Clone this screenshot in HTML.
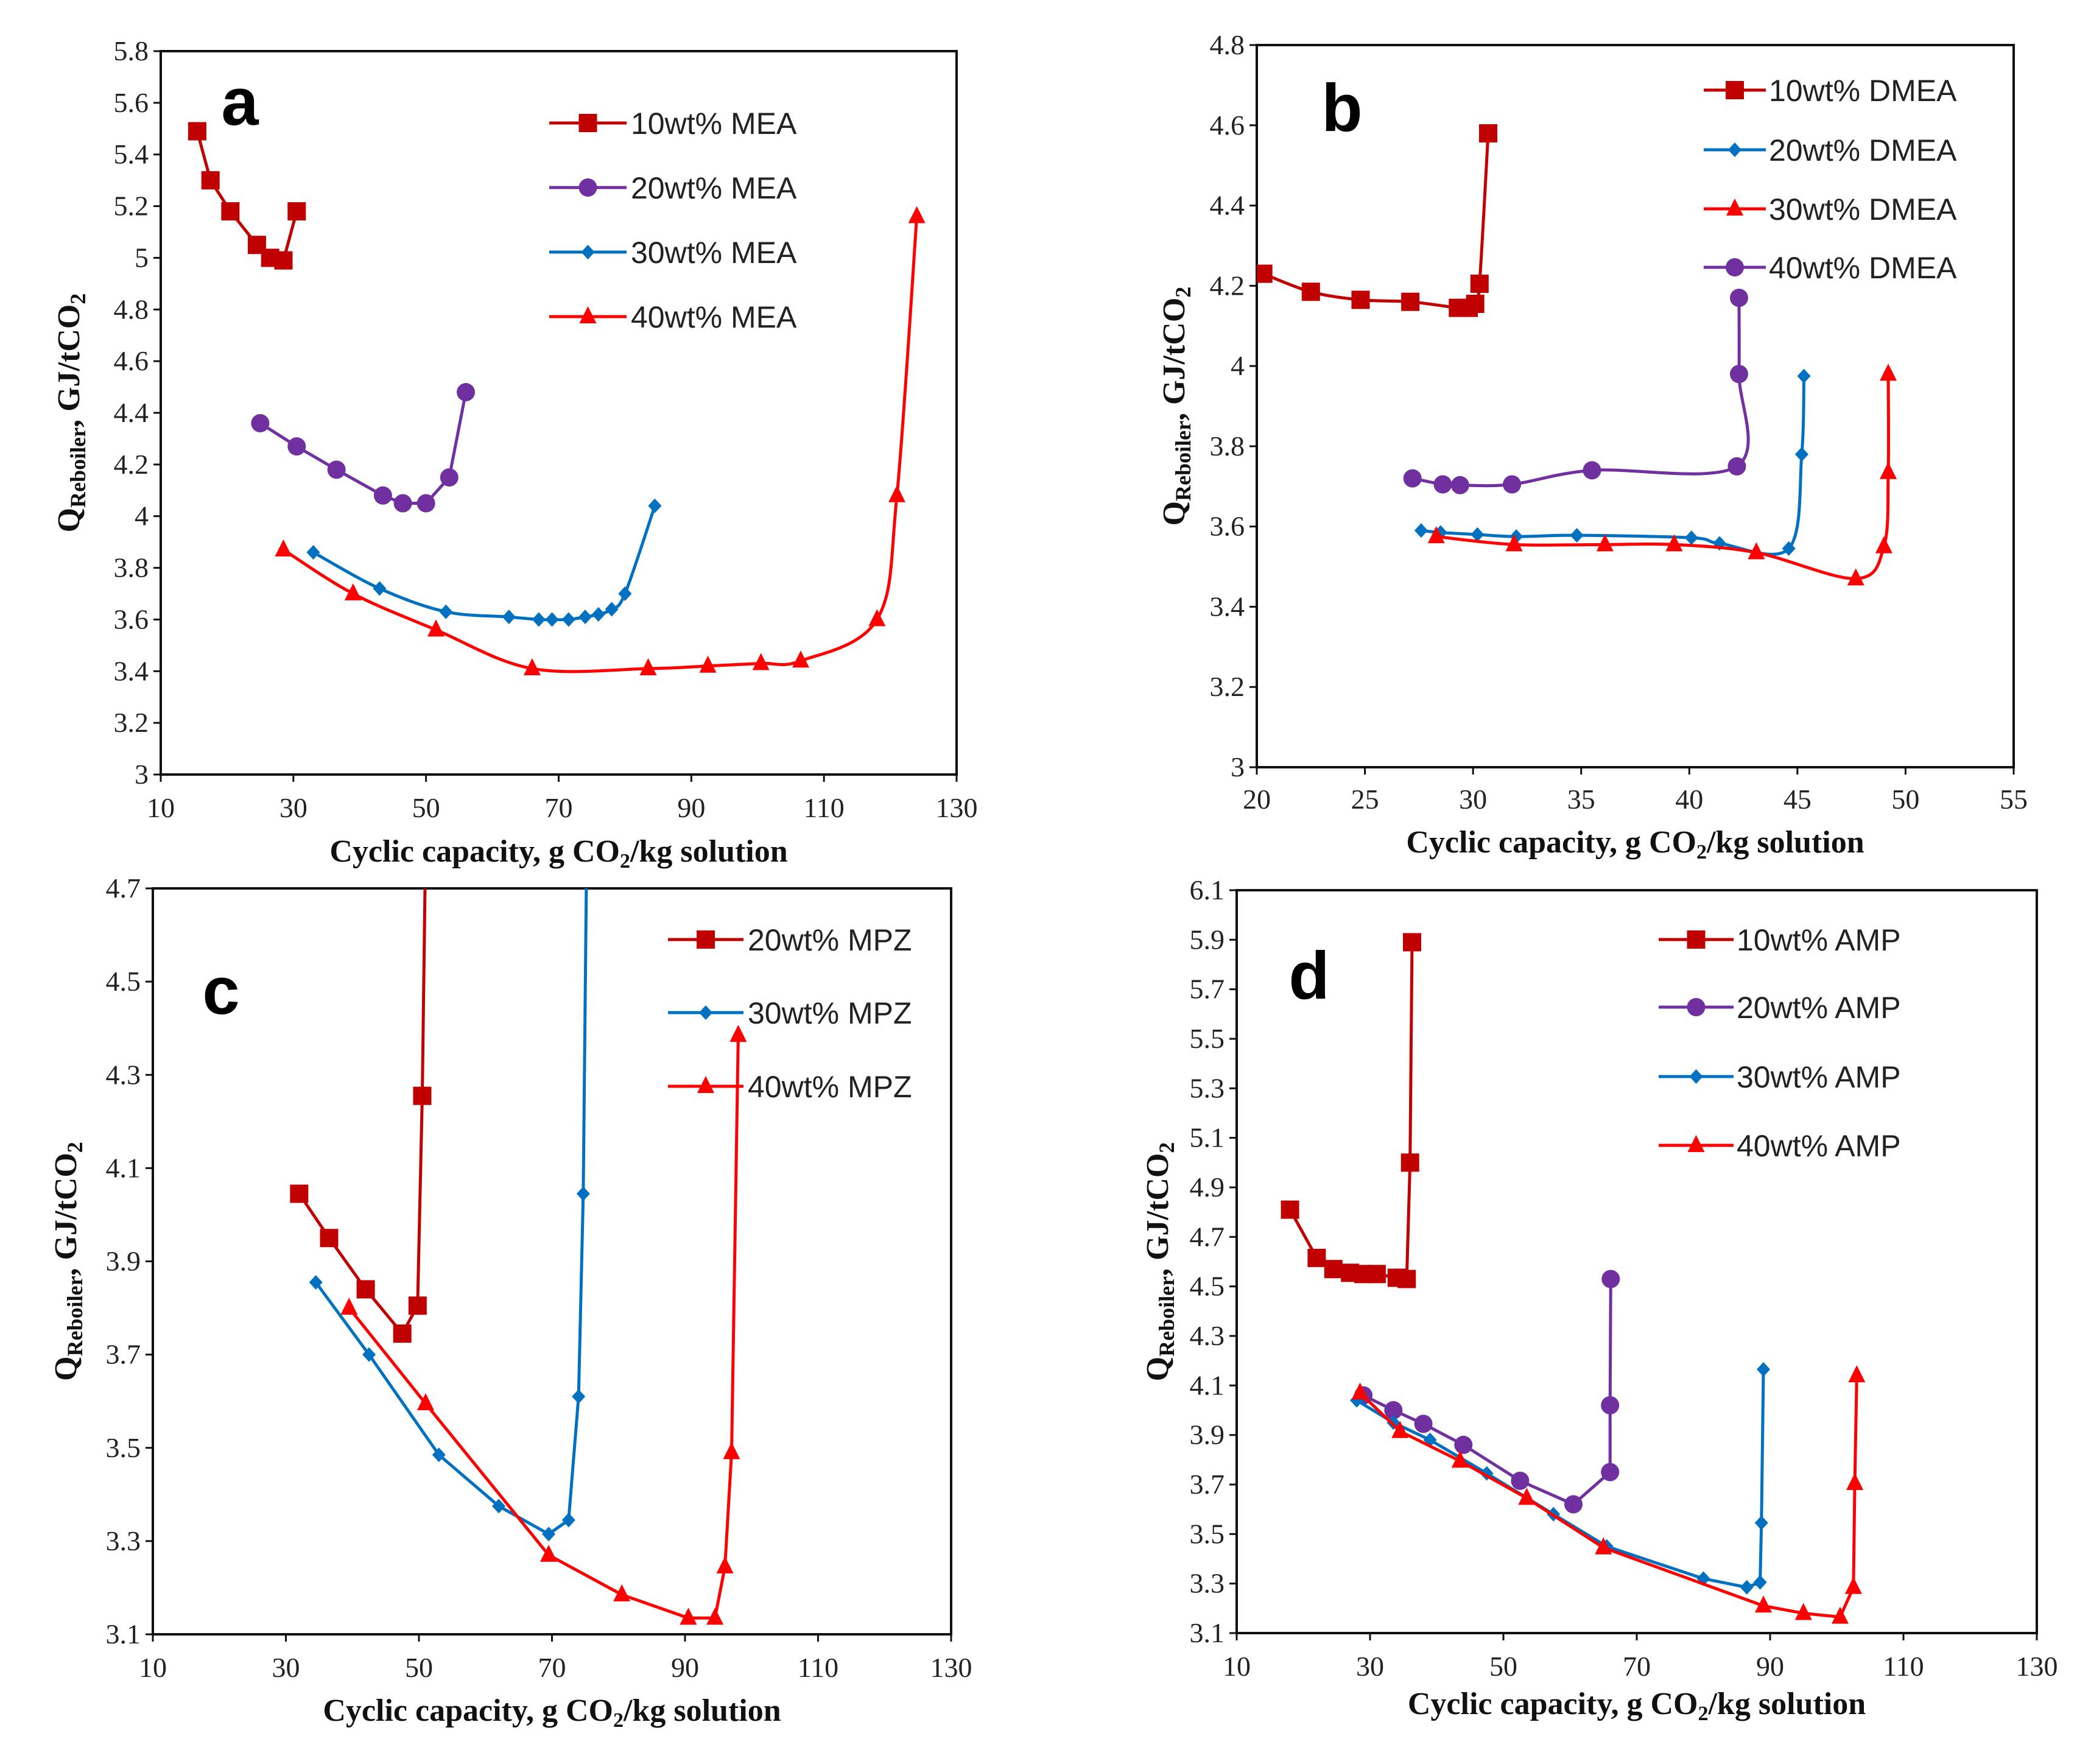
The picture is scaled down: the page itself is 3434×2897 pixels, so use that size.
<!DOCTYPE html>
<html><head><meta charset="utf-8">
<style>
html,body{margin:0;padding:0;background:#fff;}
svg{display:block;}
.tick{font-family:"Liberation Serif",serif;font-size:46px;fill:#222;}
.ttl{font-family:"Liberation Serif",serif;font-size:52px;font-weight:bold;fill:#111;}
.leg{font-family:"Liberation Sans",sans-serif;font-size:50px;fill:#222;}
.let{font-family:"Liberation Sans",sans-serif;font-size:110px;font-weight:bold;fill:#000;}
</style></head>
<body>
<svg id="root" width="3434" height="2897" viewBox="0 0 3434 2897" xmlns="http://www.w3.org/2000/svg"></svg>
<script>
// ---- data arrays ----
const aMEA10x=[15.5,17.5,20.5,24.5,26.5,28.5,30.5];
const aMEA10y=[5.49,5.30,5.18,5.05,5.00,4.99,5.18];
const aMEA20x=[25,30.5,36.5,43.5,46.5,50,53.5,56];
const aMEA20y=[4.36,4.27,4.18,4.08,4.05,4.05,4.15,4.48];
const aMEA30x=[33,43,53,62.5,67,69,71.5,74,76,78,80,84.5];
const aMEA30y=[3.86,3.72,3.63,3.61,3.60,3.60,3.60,3.61,3.62,3.64,3.70,4.04];
const aMEA40x=[28.5,39,51.5,66,83.5,92.5,100.5,106.5,118,121,124];
const aMEA40y=[3.87,3.70,3.56,3.41,3.41,3.42,3.43,3.44,3.60,4.08,5.16];

const bD10x=[20.3,22.5,24.8,27.1,29.3,29.8,30.1,30.3,30.7];
const bD10y=[4.23,4.185,4.165,4.16,4.145,4.145,4.155,4.205,4.58];
const bD20x=[27.6,28.5,30.2,32,34.8,40.1,41.4,44.6,45.2,45.3];
const bD20y=[3.59,3.585,3.58,3.575,3.578,3.572,3.558,3.545,3.78,3.975];
const bD30x=[28.3,31.9,36.1,39.3,43.1,47.7,49,49.2,49.2];
const bD30y=[3.575,3.555,3.555,3.555,3.535,3.47,3.55,3.735,3.98];
const bD40x=[27.2,28.6,29.4,31.8,35.5,42.2,42.3,42.3];
const bD40y=[3.72,3.705,3.703,3.705,3.74,3.75,3.98,4.17];

const cM20x=[32,36.5,42,47.5,49.8,50.5,51.1];
const cM20y=[4.045,3.95,3.84,3.745,3.805,4.255,4.9];
const cM20m=[1,1,1,1,1,1,0];
const cM30x=[34.5,42.5,53,62,69.5,72.5,74,74.7,75.3];
const cM30y=[3.855,3.70,3.485,3.375,3.315,3.345,3.61,4.045,4.9];
const cM30m=[1,1,1,1,1,1,1,1,0];
const cM40x=[39.5,51,69.5,80.5,90.5,94.5,96,97,98];
const cM40y=[3.80,3.595,3.27,3.185,3.135,3.135,3.245,3.49,4.385];

const dA10x=[18,22,24.5,27,29,31,34,35.5,36,36.3];
const dA10y=[4.81,4.615,4.57,4.555,4.55,4.55,4.535,4.53,5.0,5.89];
const dA20x=[29,33.5,38,44,52.5,60.5,66,66,66.1];
const dA20y=[4.06,4.00,3.945,3.86,3.715,3.62,3.75,4.02,4.53];
const dA30x=[28,33.5,39,47.5,57.5,65.5,80,86.5,88.5,88.7,89];
const dA30y=[4.04,3.95,3.88,3.745,3.58,3.45,3.32,3.285,3.305,3.545,4.165];
const dA40x=[28.5,34.5,43.5,53.5,65,89,95,100.5,102.5,102.7,103];
const dA40y=[4.07,3.915,3.795,3.645,3.445,3.21,3.18,3.165,3.285,3.705,4.14];

const xTicksA=[10,30,50,70,90,110,130];
const yTicksA=[3,3.2,3.4,3.6,3.8,4,4.2,4.4,4.6,4.8,5,5.2,5.4,5.6,5.8];
const yLabA=["3","3.2","3.4","3.6","3.8","4","4.2","4.4","4.6","4.8","5","5.2","5.4","5.6","5.8"];
const xTicksB=[20,25,30,35,40,45,50,55];
const yTicksB=[3,3.2,3.4,3.6,3.8,4,4.2,4.4,4.6,4.8];
const yLabB=["3","3.2","3.4","3.6","3.8","4","4.2","4.4","4.6","4.8"];
const yTicksC=[3.1,3.3,3.5,3.7,3.9,4.1,4.3,4.5,4.7];
const yTicksD=[3.1,3.3,3.5,3.7,3.9,4.1,4.3,4.5,4.7,4.9,5.1,5.3,5.5,5.7,5.9,6.1];

const DR="#C00000",PU="#7030A0",BL="#0070C0",RD="#FF0000";
const NS="http://www.w3.org/2000/svg";
const root=document.getElementById('root');
function mk(tag,attrs,parent){const e=document.createElementNS(NS,tag);for(const k in attrs)e.setAttribute(k,attrs[k]);(parent||root).appendChild(e);return e;}

function catmull(pts){
  if(pts.length<3){return "M"+pts.map(p=>p.join(",")).join("L");}
  let d="M"+pts[0][0]+","+pts[0][1];
  for(let i=0;i<pts.length-1;i++){
    const p0=pts[i-1]||pts[i],p1=pts[i],p2=pts[i+1],p3=pts[i+2]||p2;
    const t=1/6;
    const c1=[p1[0]+(p2[0]-p0[0])*t,p1[1]+(p2[1]-p0[1])*t];
    const c2=[p2[0]-(p3[0]-p1[0])*t,p2[1]-(p3[1]-p1[1])*t];
    d+="C"+c1.join(",")+" "+c2.join(",")+" "+p2.join(",");
  }
  return d;
}
function marker(g,type,x,y,color){
  let e;
  if(type==="sq"){e=mk('rect',{x:x-15,y:y-15,width:30,height:30,fill:color},g);}
  else if(type==="ci"){e=mk('circle',{cx:x,cy:y,r:15,fill:color},g);}
  else if(type==="di"){e=mk('polygon',{points:`${x},${y-12} ${x+11},${y} ${x},${y+12} ${x-11},${y}`,fill:color},g);}
  else {e=mk('polygon',{points:`${x},${y-17} ${x+14},${y+11} ${x-14},${y+11}`,fill:color},g);}
  
  
}

function panel(cfg){
  const g=mk('g',{});
  
  
  const {L,R,T,B,x0,x1,y0,y1}=cfg;
  const sx=v=>L+(v-x0)/(x1-x0)*(R-L);
  const sy=v=>B-(v-y0)/(y1-y0)*(B-T);
  const clipId='clip'+cfg.id;
  const cp=mk('clipPath',{id:clipId},g);mk('rect',{x:L,y:T,width:R-L,height:B-T},cp);
  const fr=mk('rect',{x:L,y:T,width:R-L,height:B-T,fill:"none",stroke:"#111","stroke-width":4},g);
  
  cfg.xt.forEach(v=>{
    mk('line',{x1:sx(v),x2:sx(v),y1:B,y2:B+12,stroke:"#111","stroke-width":3},g);
    const t=mk('text',{x:sx(v),y:B+(cfg.xtd||70),"text-anchor":"middle",class:"tick"},g);t.textContent=String(v);
    
  });
  cfg.yt.forEach((v,i)=>{
    mk('line',{x1:L-12,x2:L,y1:sy(v),y2:sy(v),stroke:"#111","stroke-width":3},g);
    const t=mk('text',{x:L-20,y:sy(v)+15,"text-anchor":"end",class:"tick"},g);t.textContent=cfg.yl?cfg.yl[i]:v.toFixed(1);
    
  });
  const xt=mk('text',{x:(L+R)/2,y:cfg.xty,"text-anchor":"middle",class:"ttl"},g);
  xt.innerHTML='Cyclic capacity, g CO<tspan font-size="34" dy="10">2</tspan><tspan dy="-10">/kg solution</tspan>';
  
  const cy=(T+B)/2;
  const yt=mk('text',{x:0,y:0,"text-anchor":"middle",class:"ttl",transform:`translate(${cfg.ytx},${cy}) rotate(-90)`},g);
  yt.innerHTML='Q<tspan font-size="36" dy="10">Reboiler</tspan><tspan dy="-10">,  GJ/tCO</tspan><tspan font-size="36" dy="10">2</tspan>';
  
  const lt=mk('text',{x:cfg.letter[0],y:cfg.letter[1],"text-anchor":"middle",class:"let"},g);lt.textContent=cfg.id;
  
  const sg=mk('g',{"clip-path":`url(#${clipId})`},g);
  cfg.series.forEach(s=>{
    const ser=mk('g',{},sg);
    
    
    const pts=s.x.map((v,i)=>[sx(v),sy(s.y[i])]);
    const d=s.smooth?catmull(pts):"M"+pts.map(p=>p.join(",")).join("L");
    mk('path',{d:d,fill:"none",stroke:s.c,"stroke-width":5,"stroke-linejoin":"round"},ser);
    pts.forEach((p,i)=>{if(!s.m||s.m[i])marker(ser,s.mk,p[0],p[1],s.c);});
  });
  const lg=cfg.leg;
  lg.order.forEach((si,i)=>{
    const s=cfg.series[si];const y=lg.rows[i];
    const le=mk('g',{},g);
    
    mk('line',{x1:lg.l1,x2:lg.l2,y1:y,y2:y,stroke:s.c,"stroke-width":5},le);
    marker(le,s.mk,(lg.l1+lg.l2)/2,y,s.c);
    const t=mk('text',{x:lg.tx,y:y+18,class:"leg","font-size":lg.fs},le);t.textContent=s.name;
  });
}

panel({id:"a",L:264,R:1571,T:84,B:1272,x0:10,x1:130,y0:3,y1:5.8,xt:xTicksA,yt:yTicksA,yl:yLabA,xty:1415,ytx:130,letter:[394,205],
 series:[{name:"10wt% MEA",x:aMEA10x,y:aMEA10y,c:DR,mk:"sq"},{name:"20wt% MEA",x:aMEA20x,y:aMEA20y,c:PU,mk:"ci"},
 {name:"30wt% MEA",x:aMEA30x,y:aMEA30y,c:BL,mk:"di",smooth:1},{name:"40wt% MEA",x:aMEA40x,y:aMEA40y,c:RD,mk:"tr",smooth:1}],
 leg:{order:[0,1,2,3],rows:[202,308,414,520],l1:902,l2:1029,tx:1036,fs:52}});

panel({id:"b",L:2064,R:3307,T:74,B:1260,x0:20,x1:55,y0:3,y1:4.8,xt:xTicksB,yt:yTicksB,yl:yLabB,xty:1400,ytx:1945,letter:[2204,215],xtd:68,
 series:[{name:"10wt% DMEA",x:bD10x,y:bD10y,c:DR,mk:"sq",smooth:1},{name:"20wt% DMEA",x:bD20x,y:bD20y,c:BL,mk:"di",smooth:1},
 {name:"30wt% DMEA",x:bD30x,y:bD30y,c:RD,mk:"tr",smooth:1},{name:"40wt% DMEA",x:bD40x,y:bD40y,c:PU,mk:"ci",smooth:1}],
 leg:{order:[0,1,2,3],rows:[148,246,343,439],l1:2798,l2:2900,tx:2905,fs:48}});

panel({id:"c",L:251,R:1562,T:1459,B:2684,x0:10,x1:130,y0:3.1,y1:4.7,xt:xTicksA,yt:yTicksC,xty:2826,ytx:125,letter:[363,1665],
 series:[{name:"20wt% MPZ",x:cM20x,y:cM20y,m:cM20m,c:DR,mk:"sq"},{name:"30wt% MPZ",x:cM30x,y:cM30y,m:cM30m,c:BL,mk:"di"},
 {name:"40wt% MPZ",x:cM40x,y:cM40y,c:RD,mk:"tr"}],
 leg:{order:[0,1,2],rows:[1543,1663,1784],l1:1097,l2:1221,tx:1228,fs:54}});

panel({id:"d",L:2031,R:3345,T:1462,B:2682,x0:10,x1:130,y0:3.1,y1:6.1,xt:xTicksA,yt:yTicksD,xty:2815,ytx:1918,letter:[2150,1640],
 series:[{name:"10wt% AMP",x:dA10x,y:dA10y,c:DR,mk:"sq"},{name:"20wt% AMP",x:dA20x,y:dA20y,c:PU,mk:"ci"},
 {name:"30wt% AMP",x:dA30x,y:dA30y,c:BL,mk:"di"},{name:"40wt% AMP",x:dA40x,y:dA40y,c:RD,mk:"tr"}],
 leg:{order:[0,1,2,3],rows:[1543,1654,1768,1881],l1:2724,l2:2847,tx:2852,fs:54}});
</script>
</body></html>
